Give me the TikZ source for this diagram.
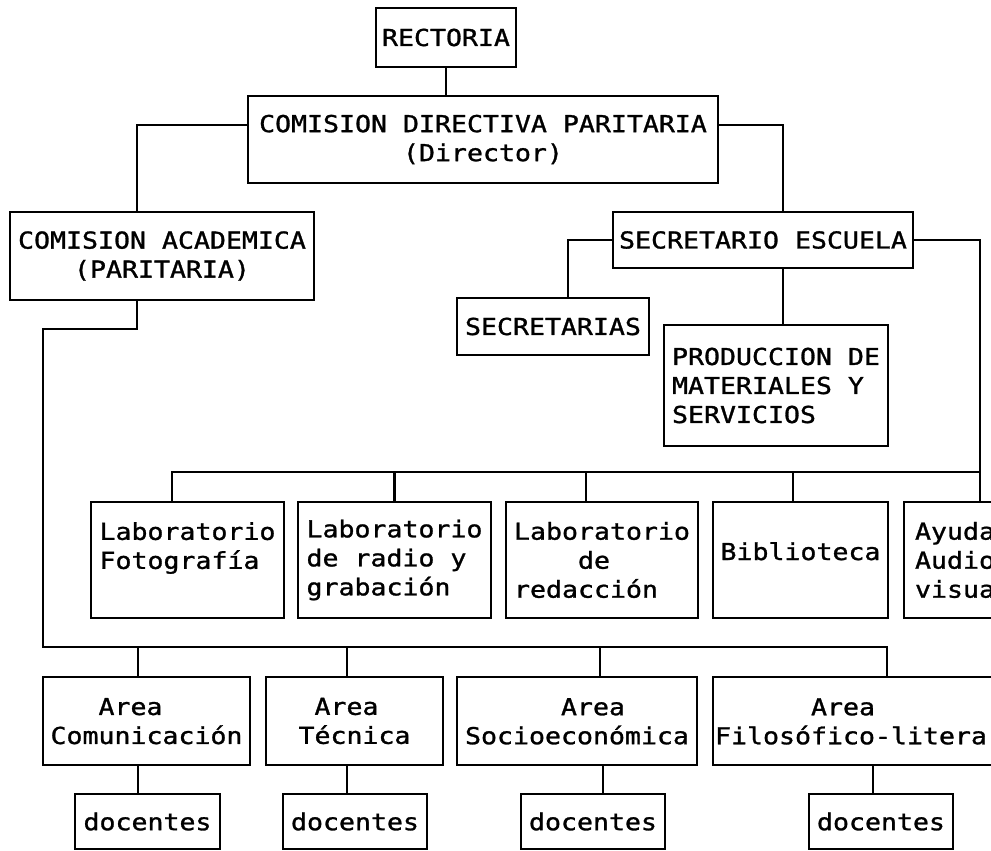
\documentclass[tikz,border=0pt]{standalone}
\usepackage{fontspec}
\newfontfamily\orgfont{DejaVu Sans Mono}[FakeStretch=1.14, FakeBold=1.2]
\tikzset{
  box/.style={draw, line width=2.2pt, inner sep=0pt, align=center,
              font=\orgfont\fontsize{23.3}{29}\selectfont},
  lbox/.style={box, align=left},
  conn/.style={line width=2.2pt}
}
\begin{document}
\begin{tikzpicture}[x=1pt,y=-1pt]
\useasboundingbox (0,0) rectangle (991,851);
\fill[white] (0,0) rectangle (991,851);
\clip (0,0) rectangle (991,851);

% top levels
\node[box, minimum width=140pt, minimum height=59pt] (rect) at (446,37.5) {RECTORIA};
\node[box, minimum width=470pt, minimum height=87pt] (cdp) at (483,139.5) {COMISION DIRECTIVA PARITARIA\\(Director)};
\node[box, minimum width=304pt, minimum height=88pt] (acad) at (162,256) {COMISION ACADEMICA\\(PARITARIA)};
\node[box, minimum width=300pt, minimum height=56pt] (sec) at (763,240) {SECRETARIO ESCUELA};
\node[box, minimum width=192pt, minimum height=57pt] (sria) at (553,326.5) {SECRETARIAS};
\node[lbox, minimum width=224pt, minimum height=121pt] (prod) at (776,385.5) {PRODUCCION DE\\MATERIALES Y\\SERVICIOS};

% laboratories
\node[lbox, minimum width=193pt, minimum height=116pt] (foto) at (187.5,560) {Laboratorio\\Fotografía\\\mbox{}};
\node[lbox, minimum width=193pt, minimum height=116pt] (radio) at (394.5,560) {Laboratorio\\de radio y\\grabación};
\node[lbox, minimum width=192pt, minimum height=116pt] (redac) at (602,560) {Laboratorio\\\phantom{Labo}de\\redacción};
\node[box, minimum width=175pt, minimum height=116pt] (bibl) at (800.5,560) {\mbox{}\\Biblioteca\\\mbox{}};
\node[lbox, minimum width=118pt, minimum height=116pt] (ayuda) at (963,560) {Ayuda\\Audio\\visual};

% areas
\node[lbox, minimum width=207pt, minimum height=88pt] (com) at (146.5,721) {\phantom{Com}Area\\Comunicación};
\node[lbox, minimum width=177pt, minimum height=88pt] (tec) at (354.5,721) {\phantom{T}Area\\Técnica};
\node[lbox, minimum width=240pt, minimum height=88pt] (soc) at (577,721) {\phantom{Socioe}Area\\Socioeconómica};
\node[lbox, minimum width=324pt, minimum height=88pt] (filo) at (875,721) {\phantom{Filoso}Area\\Filosófico-literaria};

% docentes
\node[box, minimum width=145pt, minimum height=55pt] (d1) at (147.5,821.5) {docentes};
\node[box, minimum width=144pt, minimum height=55pt] (d2) at (355,821.5) {docentes};
\node[box, minimum width=144pt, minimum height=55pt] (d3) at (593,821.5) {docentes};
\node[box, minimum width=144pt, minimum height=55pt] (d4) at (881,821.5) {docentes};

% connectors, upper part
\draw[conn] (rect.south) -- (rect.south |- cdp.north);
\draw[conn] ([yshift=14.5pt]cdp.west) -| ([xshift=-25pt]acad.north);
\draw[conn] ([yshift=14.5pt]cdp.east) -| ([xshift=20pt]sec.north);
\draw[conn] (sec.west) -| ([xshift=15pt]sria.north);
\draw[conn] ([xshift=20pt]sec.south) -- ([xshift=7pt]prod.north);
\draw[conn] (sec.east) -| ([xshift=17pt]ayuda.north);

% laboratory bar
\coordinate (labbar) at (0,472);
\path ([xshift=-15.5pt]foto.north) coordinate (ftop)
      ([xshift=-16pt]redac.north) coordinate (rtop)
      ([xshift=-7.5pt]bibl.north) coordinate (btop)
      ([xshift=17pt]ayuda.north) coordinate (atop);
\draw[conn] (ftop) |- (atop |- labbar);
\draw[conn] (radio.north) -- (radio.north |- labbar);
\draw[conn] (rtop) -- (rtop |- labbar);
\draw[conn] (btop) -- (btop |- labbar);

% area trunk and bar
\coordinate (areabar) at (0,647);
\coordinate (trunk) at (43,329);
\path ([xshift=-8.5pt]com.north) coordinate (ctop)
      ([xshift=-7.5pt]tec.north) coordinate (ttop)
      ([xshift=23pt]soc.north) coordinate (stop)
      ([xshift=12pt]filo.north) coordinate (fitop);
\draw[conn] ([xshift=-25pt]acad.south) |- (trunk) |- (fitop |- areabar) -- (fitop);
\draw[conn] (ctop) -- (ctop |- areabar);
\draw[conn] (ttop) -- (ttop |- areabar);
\draw[conn] (stop) -- (stop |- areabar);

% area to docentes
\path ([xshift=-8.5pt]com.south) coordinate (cbot)
      ([xshift=-7.5pt]tec.south) coordinate (tbot)
      ([xshift=26pt]soc.south) coordinate (sbot)
      ([xshift=-2pt]filo.south) coordinate (fbot);
\draw[conn] (cbot) -- (cbot |- d1.north);
\draw[conn] (tbot) -- (tbot |- d2.north);
\draw[conn] (sbot) -- (sbot |- d3.north);
\draw[conn] (fbot) -- (fbot |- d4.north);
\end{tikzpicture}
\end{document}
